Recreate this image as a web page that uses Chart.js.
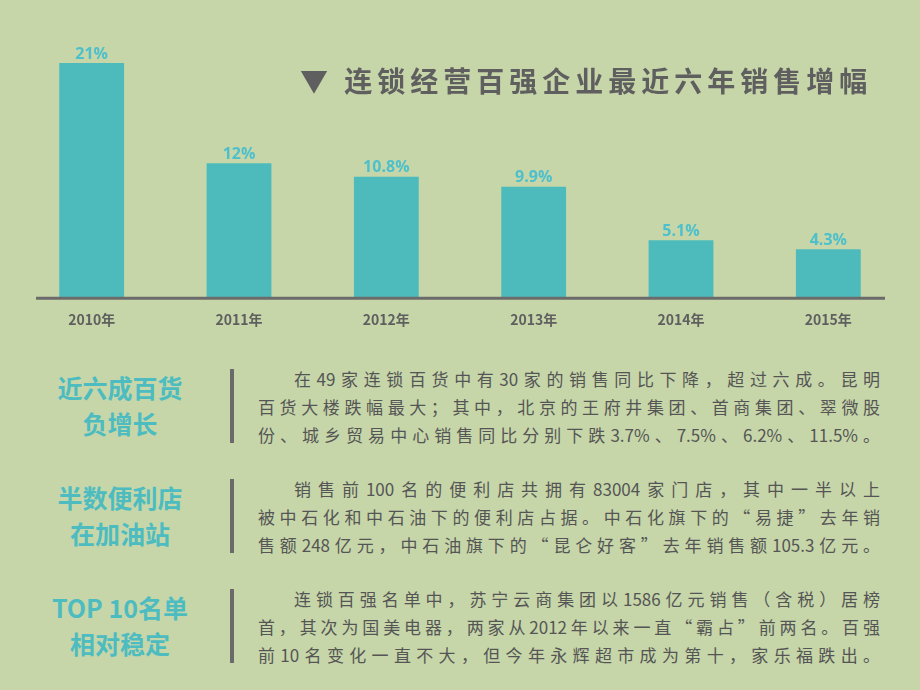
<!DOCTYPE html>
<html><head><meta charset="utf-8">
<script src="https://cdn.jsdelivr.net/npm/chart.js@4"></script>
<style>
body{margin:0;width:920px;height:690px;background:#c6d6a9;position:relative;overflow:hidden;font-family:"Noto Sans CJK SC",sans-serif}
#wrap{position:absolute;left:0;top:0;width:920px;height:342px}
#title{position:absolute;left:300px;top:60px;font-size:28px;font-weight:bold;color:#5f5f5f;letter-spacing:5px;white-space:nowrap}
.blk{position:absolute;left:0;width:920px;height:80px}
.head{position:absolute;left:20px;width:200px;text-align:center;color:#4dbcc0;font-weight:bold;font-size:25px;line-height:36px;top:0px}
.bar{position:absolute;left:230px;top:0;width:4px;height:74px;background:#6a6a6a}
.txt{position:absolute;left:258px;top:-4px;width:622px;font-size:17px;line-height:28px;color:#555}
.txt div{text-align:justify;text-align-last:justify;white-space:nowrap}
.txt div.f{padding-left:36px}
</style></head><body>
<div id="wrap"><canvas id="c"></canvas></div>
<div id="title">▼ 连锁经营百强企业最近六年销售增幅</div>
<div class="blk" style="top:369px"><div class="head">近六成百货<br>负增长</div><div class="bar"></div>
<div class="txt"><div class="f">在49家连锁百货中有30家的销售同比下降，超过六成。昆明</div><div>百货大楼跌幅最大；其中，北京的王府井集团、首商集团、翠微股</div><div>份、城乡贸易中心销售同比分别下跌3.7%、7.5%、6.2%、11.5%。</div></div></div>
<div class="blk" style="top:479px"><div class="head">半数便利店<br>在加油站</div><div class="bar"></div>
<div class="txt"><div class="f">销售前100名的便利店共拥有83004家门店，其中一半以上</div><div>被中石化和中石油下的便利店占据。中石化旗下的“易捷”去年销</div><div>售额248亿元，中石油旗下的“昆仑好客”去年销售额105.3亿元。</div></div></div>
<div class="blk" style="top:589px"><div class="head">TOP 10名单<br>相对稳定</div><div class="bar"></div>
<div class="txt"><div class="f">连锁百强名单中，苏宁云商集团以1586亿元销售（含税）居榜</div><div>首，其次为国美电器，两家从2012年以来一直“霸占”前两名。百强</div><div>前10名变化一直不大，但今年永辉超市成为第十，家乐福跌出。</div></div></div>
<script>
const years = ['2010年', '2011年', '2012年', '2013年', '2014年', '2015年'];
const growth = [21, 12, 10.8, 9.9, 5.1, 4.3];
const growthLabels = ['21%', '12%', '10.8%', '9.9%', '5.1%', '4.3%'];

// value labels above bars + grey baseline
const extras = {
  id: 'extras',
  afterDatasetsDraw(chart) {
    const { ctx, chartArea: { bottom } } = chart;
    ctx.save();
    ctx.strokeStyle = '#6b6b6b';
    ctx.lineWidth = 3;
    ctx.beginPath();
    ctx.moveTo(36, bottom + 1);
    ctx.lineTo(885, bottom + 1);
    ctx.stroke();
    ctx.fillStyle = '#4dc0cc';
    ctx.font = 'bold 16px "Open Sans", sans-serif';
    ctx.textAlign = 'center';
    ctx.textBaseline = 'bottom';
    chart.getDatasetMeta(0).data.forEach((bar, i) => {
      ctx.fillText(growthLabels[i], bar.x, bar.y - 1);
    });
    ctx.restore();
  },
};

new Chart(document.getElementById('c'), {
  type: 'bar',
  data: {
    labels: years,
    datasets: [{ data: growth, backgroundColor: '#4dbbbb', categoryPercentage: 0.88, barPercentage: 0.5 }],
  },
  options: {
    responsive: true,
    maintainAspectRatio: false,
    animation: false,
    layout: { padding: { left: 18, right: 18, top: 63, bottom: 0 } },
    scales: {
      x: {
        grid: { display: false, drawTicks: false },
        border: { display: false },
        ticks: { color: '#5f5f5f', font: { size: 14, weight: 'bold', family: '"Noto Sans CJK SC"' }, padding: 14 },
      },
      y: { display: false, min: 0, max: 21 },
    },
    plugins: { legend: { display: false }, tooltip: { enabled: false } },
  },
  plugins: [extras],
});
</script>
</body></html>
